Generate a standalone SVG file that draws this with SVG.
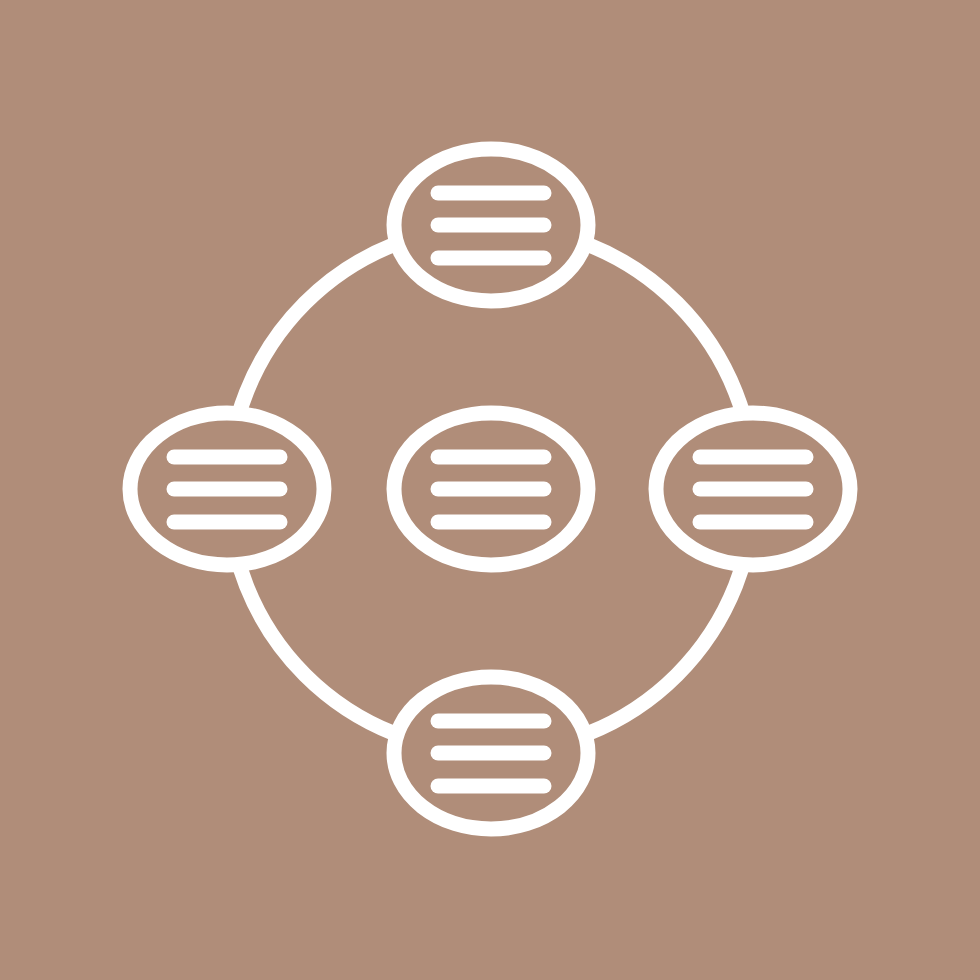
<svg xmlns="http://www.w3.org/2000/svg" width="980" height="980" viewBox="0 0 980 980">
<defs>
<style>
.s{fill:none;stroke:#ffffff;stroke-width:15;stroke-linecap:round}
.n{fill:#b08d79;stroke:#ffffff;stroke-width:15}
</style>
<g id="node-tpl">
<line class="s" x1="-53" y1="-32" x2="53" y2="-32"/>
<line class="s" x1="-53" y1="0" x2="53" y2="0"/>
<line class="s" x1="-53" y1="33" x2="53" y2="33"/>
</g>
</defs>
<rect width="980" height="980" fill="#b08d79"/>
<g id="connectors">
<circle class="s" cx="491" cy="489" r="263"/>
</g>
<g id="node-top" transform="translate(491,225)"><ellipse class="n" rx="97" ry="76"/><use href="#node-tpl"/></g>
<g id="node-left" transform="translate(227,489)"><ellipse class="n" rx="97" ry="76"/><use href="#node-tpl"/></g>
<g id="node-center" transform="translate(491,489)"><ellipse class="n" rx="97" ry="76"/><use href="#node-tpl"/></g>
<g id="node-right" transform="translate(753,489)"><ellipse class="n" rx="97" ry="76"/><use href="#node-tpl"/></g>
<g id="node-bottom" transform="translate(491,753)"><ellipse class="n" rx="97" ry="76"/><use href="#node-tpl"/></g>
</svg>
